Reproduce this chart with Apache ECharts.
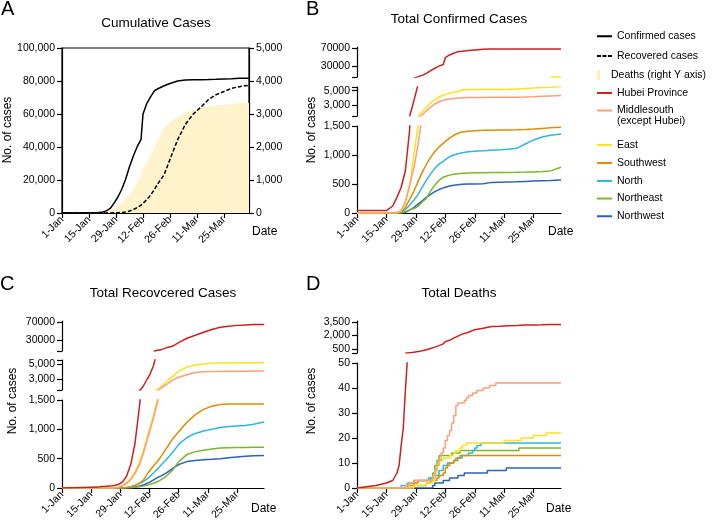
<!DOCTYPE html>
<html><head><meta charset="utf-8">
<script src="https://cdn.jsdelivr.net/npm/echarts@6/dist/echarts.min.js"></script>
<style>html,body{margin:0;padding:0;background:#fff}#c{width:715px;height:529px}</style>
</head><body><div id="c"></div>
<script>
// ---------------- DATA ----------------
const tickDays = [0, 14, 28, 42, 56, 70, 84];
const tickLabels = ['1-Jan', '15-Jan', '29-Jan', '12-Feb', '26-Feb', '11-Mar', '25-Mar'];
// day index (0 = 1-Jan)
const days = [0, 14, 17, 19, 21, 23, 25, 27, 29, 31, 33, 35, 37, 39, 41, 42, 44, 46, 48, 50, 53, 56, 60, 64, 68, 72, 76, 80, 84, 88, 92, 97];

// Panel A (national totals)
const totalConfirmed = [41, 41, 121, 291, 571, 1287, 2744, 5974, 9692, 14380, 20438, 28018, 34546, 40171, 44653, 59804, 66492, 70548, 74185, 75465, 77150, 78497, 80026, 80552, 80754, 80815, 80894, 81054, 81285, 81439, 81620, 81740];
const totalRecovered = [0, 0, 0, 25, 28, 38, 51, 103, 171, 328, 632, 1153, 2050, 3281, 4740, 5911, 8096, 10844, 14376, 18264, 23187, 32495, 44462, 53726, 59897, 64111, 68798, 71740, 73650, 75582, 76571, 77310];
const totalDeaths = [0, 0, 0, 6, 17, 41, 80, 132, 213, 304, 425, 563, 722, 908, 1113, 1367, 1523, 1770, 2004, 2236, 2592, 2744, 2912, 3042, 3119, 3176, 3226, 3261, 3281, 3304, 3322, 3333];

const regions = ['Hubei Province', 'Middlesouth (except Hubei)', 'East', 'Southwest', 'North', 'Northeast', 'Northwest'];

// Panel B (confirmed)
const confHubei = [41, 41, 121, 270, 444, 729, 1423, 3554, 5806, 9074, 13522, 19665, 24953, 29631, 33366, 48206, 54406, 58182, 61682, 62662, 64287, 65596, 66907, 67466, 67743, 67786, 67799, 67800, 67801, 67801, 67802, 67803];
const confMiddlesouth = [0, 0, 0, 14, 37, 184, 485, 766, 1171, 1667, 2214, 2714, 3163, 3469, 3657, 3740, 3830, 3925, 3980, 4017, 4040, 4050, 4060, 4070, 4075, 4080, 4090, 4120, 4160, 4210, 4260, 4320];
const confEast = [0, 0, 0, 2, 33, 200, 434, 992, 1499, 2082, 2719, 3305, 3743, 4116, 4373, 4450, 4659, 4783, 4866, 5093, 5141, 5145, 5150, 5160, 5170, 5190, 5230, 5290, 5350, 5420, 5480, 5560];
const confSouthwest = [0, 0, 0, 1, 12, 95, 230, 370, 540, 700, 840, 960, 1060, 1140, 1200, 1234, 1290, 1340, 1375, 1395, 1410, 1420, 1425, 1428, 1430, 1432, 1435, 1440, 1448, 1458, 1468, 1480];
const confNorth = [0, 0, 0, 5, 20, 59, 135, 218, 317, 445, 568, 674, 770, 843, 889, 920, 969, 1000, 1020, 1040, 1055, 1065, 1072, 1082, 1090, 1099, 1115, 1190, 1260, 1310, 1340, 1362];
const confNortheast = [0, 0, 0, 0, 4, 24, 54, 75, 114, 190, 250, 380, 480, 563, 618, 630, 653, 668, 678, 685, 690, 694, 695, 697, 699, 700, 702, 705, 709, 715, 726, 790];
const confNorthwest = [0, 0, 0, 0, 1, 11, 51, 92, 153, 209, 270, 320, 369, 404, 433, 445, 467, 480, 489, 495, 500, 502, 505, 528, 532, 536, 540, 545, 550, 555, 560, 567];

// Panel C (recovered)
const recHubei = [0, 12, 15, 25, 28, 32, 42, 60, 100, 200, 400, 750, 1330, 2000, 3000, 3440, 4800, 7000, 9000, 12500, 15800, 24000, 33700, 40500, 47000, 53000, 58000, 60500, 62300, 63300, 64000, 64500];
const recMiddlesouth = [0, 0, 0, 0, 0, 1, 3, 10, 35, 75, 140, 240, 380, 580, 830, 950, 1200, 1480, 1850, 2200, 2820, 3200, 3530, 3840, 3920, 3950, 3970, 3990, 4000, 4010, 4020, 4030];
const recEast = [0, 0, 0, 0, 0, 2, 5, 15, 45, 90, 160, 270, 420, 630, 880, 1000, 1250, 1530, 2020, 2560, 3280, 3980, 4550, 4820, 4980, 5070, 5100, 5110, 5120, 5130, 5135, 5145];
const recSouthwest = [0, 0, 0, 0, 0, 0, 0, 0, 3, 8, 20, 45, 80, 130, 240, 290, 380, 460, 560, 670, 830, 960, 1120, 1250, 1340, 1395, 1425, 1432, 1432, 1432, 1432, 1433];
const recNorth = [0, 0, 0, 0, 0, 0, 0, 0, 2, 8, 20, 40, 70, 110, 160, 190, 260, 330, 410, 480, 600, 740, 860, 930, 970, 1000, 1030, 1050, 1058, 1065, 1085, 1125];
const recNortheast = [0, 0, 0, 0, 0, 0, 0, 0, 1, 3, 6, 12, 20, 32, 48, 58, 80, 110, 150, 200, 300, 450, 570, 620, 645, 665, 680, 687, 690, 692, 693, 693];
const recNorthwest = [0, 0, 0, 0, 0, 0, 0, 0, 1, 4, 10, 18, 30, 50, 80, 95, 140, 180, 215, 255, 330, 400, 450, 470, 480, 488, 500, 515, 530, 543, 548, 552];

// Panel D (deaths) as [day, cumulative deaths] change points
const deathHubei = [[0,0],[9,1],[14,2],[17,3],[19,6],[20,9],[21,17],[22,24],[23,39],[24,52],[25,76],[26,100],[27,125],[29,204],[31,294],[33,414],[35,549],[37,699],[39,871],[41,1068],[42,1310],[44,1457],[46,1696],[48,1921],[50,2144],[53,2346],[56,2641],[60,2803],[64,2986],[68,3024],[72,3085],[76,3111],[80,3144],[84,3160],[88,3177],[92,3199],[97,3213]];
const deathMiddlesouth = [[0,0],[21,0],[23,1],[25,2],[27,3],[35,3],[36,5],[37,7],[38,9],[39,11],[40,14],[41,16],[42,19],[43,21],[44,23],[45,26],[46,29],[47,33],[48,34],[51,35],[52,36],[53,37],[55,38],[57,39],[60,40],[63,41],[66,42],[97,42]];
const deathEast = [[0,0],[27,1],[33,2],[36,3],[37,6],[38,9],[39,11],[41,12],[44,13],[46,14],[47,15],[49,16],[50,17],[52,18],[70,19],[78,20],[84,21],[90,22],[97,22]];
const deathSouthwest = [[0,0],[24,1],[27,2],[29,3],[37,3],[38,4],[39,5],[41,6],[42,8],[43,9],[44,10],[46,11],[48,12],[49,13],[97,13]];
const deathNorth = [[0,0],[21,1],[24,2],[27,3],[34,4],[37,5],[39,7],[41,9],[43,10],[46,11],[47,12],[50,13],[53,14],[55,15],[56,16],[57,17],[59,18],[97,18]];
const deathNortheast = [[0,0],[27,1],[33,2],[35,4],[36,6],[37,9],[38,11],[39,13],[45,14],[49,15],[77,16],[97,16]];
const deathNorthwest = [[0,0],[36,1],[37,2],[41,3],[44,4],[48,5],[51,6],[62,7],[71,8],[97,8]];

// ---------------- STYLE ----------------
const FONT = '"Liberation Sans", Arial, Helvetica, sans-serif';
const regionColors = ['#C9211E', '#F9A07C', '#FFE11A', '#E08C00', '#2DB8DA', '#7DB62E', '#2C62B9'];
const DEATH_FILL = '#FFF3CC';
const AX = {color: '#000', width: 1.2};

const confByRegion = [confHubei, confMiddlesouth, confEast, confSouthwest, confNorth, confNortheast, confNorthwest];
const recByRegion = [recHubei, recMiddlesouth, recEast, recSouthwest, recNorth, recNortheast, recNorthwest];
const deathByRegion = [deathHubei, deathMiddlesouth, deathEast, deathSouthwest, deathNorth, deathNortheast, deathNorthwest];

const fmtC = v => String(v).replace(/\B(?=(\d{3})+(?!\d))/g, ',');
const fmtN = v => String(v);
const pairs = arr => days.map((d, i) => [d, arr[i]]);

// keep only the points whose line pieces pass through one axis segment [min, max]
function segData(pts, min, max) {
  const keep = pts.map(() => false);
  for (let i = 0; i < pts.length; i++) {
    const v = pts[i][1];
    if (v >= min && v <= max) keep[i] = true;
    if (i + 1 < pts.length) {
      const w = pts[i + 1][1];
      if (Math.min(v, w) <= max && Math.max(v, w) >= min) { keep[i] = true; keep[i + 1] = true; }
    }
  }
  return pts.map((p, i) => keep[i] ? p : [p[0], '-']);
}

const grids = [], xAxes = [], yAxes = [], series = [];

function xAxisFor(gi, visible, dateGap, datePad) {
  const ax = {
    type: 'value', gridIndex: gi, min: 0, max: 97, show: visible,
    splitLine: {show: false},
    axisLine: {show: true, onZero: false, lineStyle: AX},
    axisTick: {show: true, customValues: tickDays, length: 5, lineStyle: AX},
    axisLabel: {show: true, customValues: tickDays, rotate: 45, margin: 5, fontSize: 10.5, fontFamily: FONT, color: '#000',
      formatter: v => { const k = tickDays.indexOf(v); return k >= 0 ? tickLabels[k] : ''; }}
  };
  if (visible) {
    ax.name = 'Date'; ax.nameLocation = 'end'; ax.nameGap = dateGap;
    ax.nameTextStyle = {fontSize: 12, fontFamily: FONT, color: '#000', align: 'left', verticalAlign: 'top', padding: [datePad, 0, 0, 0]};
  }
  return ax;
}
function yAxisFor(gi, min, max, ticks, labels, fmt, pos) {
  return {
    type: 'value', gridIndex: gi, min: min, max: max, position: pos || 'left',
    splitLine: {show: false},
    axisLine: {show: true, onZero: false, lineStyle: AX},
    axisTick: {show: true, customValues: ticks, length: 5, lineStyle: AX},
    axisLabel: {show: true, customValues: labels, margin: 7, fontSize: 10.5, fontFamily: FONT, color: '#000', formatter: fmt}
  };
}
function addGrid(left, top, width, height, extra) {
  grids.push(Object.assign({left: left, top: top, width: width, height: height}, extra || {}));
  return grids.length - 1;
}
function regionLine(r, xi, yi, data, extra) {
  return Object.assign({
    type: 'line', name: regions[r], xAxisIndex: xi, yAxisIndex: yi, data: data,
    symbol: 'none', showSymbol: false, clip: true, connectNulls: false, color: regionColors[r],
    lineStyle: {width: 1.5, color: regionColors[r]}, itemStyle: {color: regionColors[r]}, z: 3 + (6 - r) * 0.01
  }, extra || {});
}

// ---------- Panel A ----------
const gA = addGrid(62, 48, 187, 165, {show: true, borderColor: '#000', borderWidth: 1.2, backgroundColor: 'transparent'});
xAxes.push(xAxisFor(gA, true, 3, 13));
const yAL = yAxes.push(yAxisFor(gA, 0, 100000, [0, 20000, 40000, 60000, 80000, 100000], [0, 20000, 40000, 60000, 80000, 100000], fmtC, 'left')) - 1;
const yAR = yAxes.push(yAxisFor(gA, 0, 5000, [0, 1000, 2000, 3000, 4000, 5000], [0, 1000, 2000, 3000, 4000, 5000], fmtC, 'right')) - 1;
series.push({type: 'line', name: 'Deaths (right Y axis)', xAxisIndex: 0, yAxisIndex: yAR, data: pairs(totalDeaths),
  symbol: 'none', showSymbol: false, lineStyle: {width: 0, color: DEATH_FILL}, itemStyle: {color: DEATH_FILL},
  areaStyle: {color: DEATH_FILL, opacity: 1}, z: 1});
series.push({type: 'line', name: 'Recovered cases', xAxisIndex: 0, yAxisIndex: yAL, data: pairs(totalRecovered),
  symbol: 'none', showSymbol: false, color: '#000', lineStyle: {width: 1.5, color: '#000', type: [4, 2]}, itemStyle: {color: '#000'}, z: 3});
series.push({type: 'line', name: 'Confirmed cases', xAxisIndex: 0, yAxisIndex: yAL, data: pairs(totalConfirmed),
  symbol: 'none', showSymbol: false, color: '#000', lineStyle: {width: 1.5, color: '#000'}, itemStyle: {color: '#000'}, z: 3});

// ---------- Panel B & C (three-segment broken axis) ----------
function brokenPanel(left, width, tops, heights, byRegion, datePad) {
  const segs = [
    {min: 5500, max: 72000, ticks: [5500, 30000, 70000], labels: [30000, 70000], fmt: fmtN},
    {min: 1500, max: 5500, ticks: [1500, 3000, 5000, 5500], labels: [3000, 5000], fmt: fmtC},
    {min: 0, max: 1500, ticks: [0, 500, 1000, 1500], labels: [0, 500, 1000, 1500], fmt: fmtC}
  ];
  segs.forEach((s, k) => {
    const gi = addGrid(left, tops[k], width, heights[k]);
    const xi = xAxes.push(xAxisFor(gi, k === 2, -13, datePad)) - 1;
    const yi = yAxes.push(yAxisFor(gi, s.min, s.max, s.ticks, s.labels, s.fmt)) - 1;
    byRegion.forEach((arr, r) => series.push(regionLine(r, xi, yi, segData(pairs(arr), s.min, s.max))));
  });
}
brokenPanel(357, 204, [47, 87, 126], [30, 29, 87], confByRegion, 13);
brokenPanel(62, 202, [321, 360, 400], [30, 30, 88], recByRegion, 14.5);

// ---------- Panel D (two-segment broken axis) ----------
(function () {
  const gU = addGrid(357, 321, 204, 32);
  const xU = xAxes.push(xAxisFor(gU, false)) - 1;
  const yU = yAxes.push(yAxisFor(gU, 50, 3600, [50, 500, 2000, 3500], [500, 2000, 3500], fmtC)) - 1;
  series.push(regionLine(0, xU, yU, segData(deathHubei, 50, 3600)));
  const gL = addGrid(357, 363, 204, 125);
  const xL = xAxes.push(xAxisFor(gL, true, -15, 14.5)) - 1;
  const yL = yAxes.push(yAxisFor(gL, 0, 50, [0, 10, 20, 30, 40, 50], [0, 10, 20, 30, 40, 50], fmtC)) - 1;
  deathByRegion.forEach((arr, r) => series.push(regionLine(r, xL, yL, segData(arr, 0, 50), r === 0 ? {} : {step: 'end'})));
})();

// ---------- Legend (one component per row) ----------
const legendRows = [
  {name: 'Confirmed cases', center: 36, icon: 'rect', h: 2, color: '#000'},
  {name: 'Recovered cases', center: 55.7, icon: 'path://M0,0h4v2h-4zM5.5,0h4v2h-4zM11,0h4v2h-4z', h: 2, color: '#000'},
  {name: 'Deaths (right Y axis)', center: 75, icon: 'path://M0,0h3v10h-3z', h: 10, color: '#FFEFB8'},
  {name: regions[0], center: 92.7, icon: 'rect', h: 2, color: regionColors[0]},
  {name: regions[1], center: 110.3, icon: 'rect', h: 2, color: regionColors[1]},
  {name: regions[2], center: 144.7, icon: 'rect', h: 2, color: regionColors[2]},
  {name: regions[3], center: 162.7, icon: 'rect', h: 2, color: regionColors[3]},
  {name: regions[4], center: 180.7, icon: 'rect', h: 2, color: regionColors[4]},
  {name: regions[5], center: 198.3, icon: 'rect', h: 2, color: regionColors[5]},
  {name: regions[6], center: 216, icon: 'rect', h: 2, color: regionColors[6]}
];
const legends = legendRows.map(row => ({
  left: 597, top: row.center - 5.25, padding: 0, orient: 'vertical',
  selectedMode: false, itemWidth: 15, itemHeight: row.h, symbolKeepAspect: true,
  data: [{name: row.name, icon: row.icon, itemStyle: {color: row.color, borderWidth: 0}}],
  formatter: n => n === regions[1] ? 'Middlesouth' : n,
  textStyle: {fontSize: 10.5, fontFamily: FONT, color: '#000'}
}));

// ---------- Titles ----------
const letterStyle = {fontSize: 20, fontWeight: 'normal', fontFamily: FONT, color: '#000'};
const titleStyle = {fontSize: 13.5, fontWeight: 'normal', fontFamily: FONT, color: '#000'};
const titles = [
  {text: 'A', left: 1, top: -1, padding: 0, textStyle: letterStyle},
  {text: 'B', left: 306, top: -1, padding: 0, textStyle: letterStyle},
  {text: 'C', left: 0, top: 274, padding: 0, textStyle: letterStyle},
  {text: 'D', left: 306, top: 274, padding: 0, textStyle: letterStyle},
  {text: 'Cumulative Cases', left: 156, top: 16, textAlign: 'center', padding: 0, textStyle: titleStyle},
  {text: 'Total Confirmed Cases', left: 459, top: 12, textAlign: 'center', padding: 0, textStyle: titleStyle},
  {text: 'Total Recovcered Cases', left: 163, top: 286, textAlign: 'center', padding: 0, textStyle: titleStyle},
  {text: 'Total Deaths', left: 459, top: 286, textAlign: 'center', padding: 0, textStyle: titleStyle}
];

const yNameStyle = {text: 'No. of cases', fontSize: 12, fontFamily: FONT, fill: '#000', align: 'center', verticalAlign: 'middle'};
const graphics = [[7.5, 130], [311.5, 130], [13, 401], [311.5, 401]].map(p => ({
  type: 'text', x: p[0], y: p[1], rotation: Math.PI / 2, style: Object.assign({}, yNameStyle)
}));
// second line of the "Middlesouth (except Hubei)" legend entry
graphics.push({type: 'text', x: 617, y: 120.8, style: {text: '(except Hubei)', fontSize: 10.5, fontFamily: FONT, fill: '#000', align: 'left', verticalAlign: 'middle'}});

const chart = echarts.init(document.getElementById('c'), null, {renderer: 'canvas'});
chart.setOption({
  animation: false,
  backgroundColor: '#fff',
  title: titles,
  legend: legends,
  grid: grids,
  xAxis: xAxes,
  yAxis: yAxes,
  series: series,
  graphic: graphics
});
</script>
</body></html>
